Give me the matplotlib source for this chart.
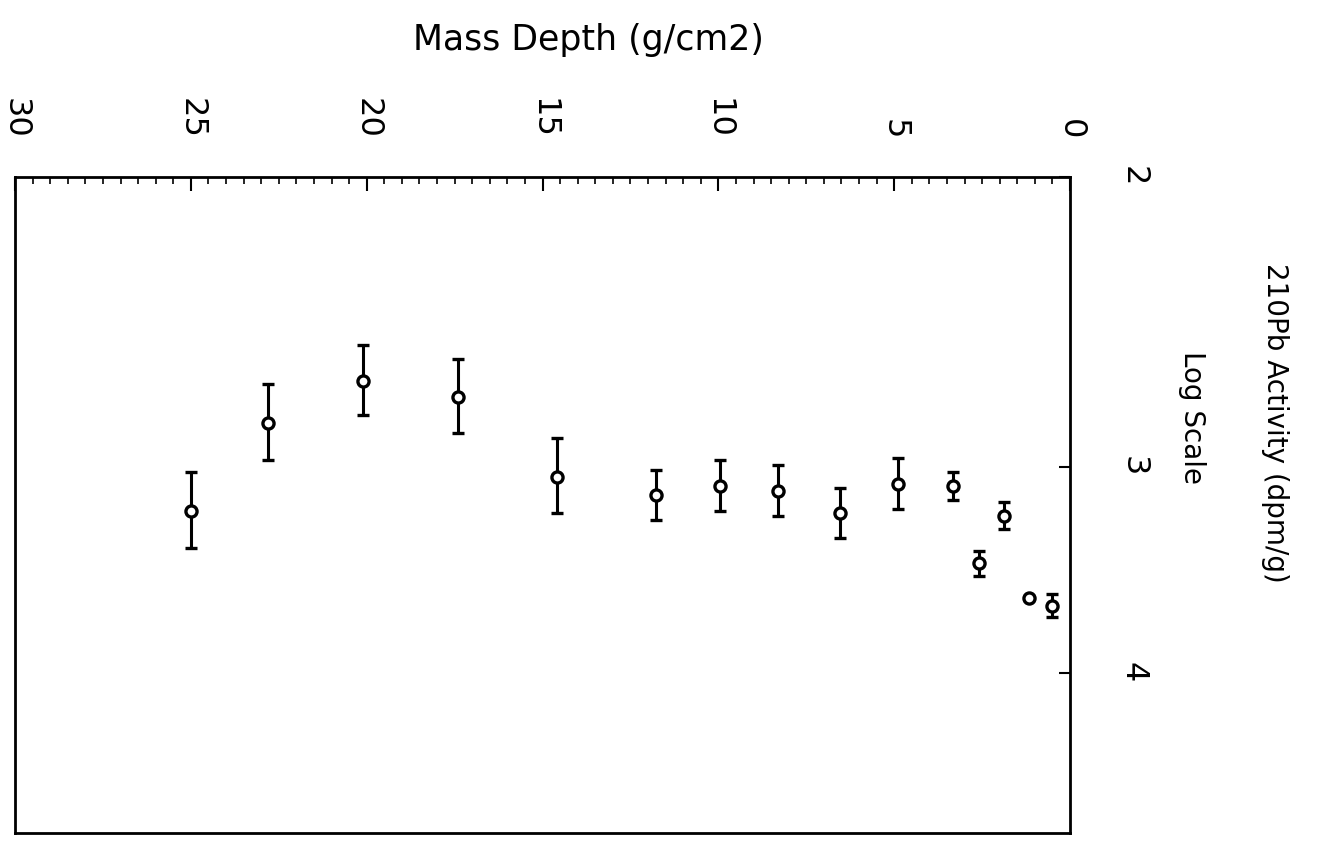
import matplotlib
matplotlib.use("Agg")
import matplotlib.pyplot as plt
from matplotlib.ticker import MultipleLocator, FixedLocator, NullLocator, FixedFormatter

# Data read from the (rotated) scanned plot
mass_depth = [0.51, 1.17, 1.88, 2.59, 3.32, 4.89, 6.54, 8.29, 9.94, 11.76,
              14.6, 17.4, 20.1, 22.8, 25.0]
activity = [3.64, 3.60, 3.21, 3.43, 3.08, 3.07, 3.20, 3.10, 3.08, 3.12,
            3.04, 2.72, 2.66, 2.82, 3.19]
act_err = [0.06, 0.0, 0.06, 0.06, 0.06, 0.11, 0.11, 0.11, 0.11, 0.11,
           0.16, 0.14, 0.13, 0.15, 0.17]

x_ticks = [30, 25, 20, 15, 10, 5, 0]
x_ticklabels = ["30", "25", "20", "15", "10", "5", "0"]
y_ticks = [2, 3, 4]
y_ticklabels = ["2", "3", "4"]

plt.rcParams['font.family'] = ['DejaVu Sans']

fig = plt.figure(figsize=(13.18, 8.45), dpi=100)
ax = fig.add_axes([15/1318, 1 - 834/845, (1070-15)/1318, (834-178)/845])

ax.errorbar(mass_depth, activity, yerr=act_err, fmt='o', mfc='white', mec='black',
            ecolor='black', ms=8, mew=2.4, elinewidth=2.2, capsize=4.5, capthick=2.2)

ax.set_xlim(30, 0)
ax.set_yscale('log')
ax.set_ylim(5, 2)

for s in ax.spines.values():
    s.set_linewidth(2.0)

ax.xaxis.set_major_locator(FixedLocator(x_ticks))
ax.xaxis.set_major_formatter(FixedFormatter(x_ticklabels))
ax.xaxis.set_minor_locator(MultipleLocator(0.5))
ax.yaxis.set_major_locator(FixedLocator(y_ticks))
ax.yaxis.set_major_formatter(FixedFormatter(y_ticklabels))
ax.yaxis.set_minor_locator(NullLocator())

ax.tick_params(axis='x', which='both', direction='in', top=True, bottom=False,
               labeltop=True, labelbottom=False)
ax.tick_params(axis='x', which='major', length=10, width=1.5, pad=28, labelsize=23,
               labelrotation=-90)
ax.tick_params(axis='x', which='minor', length=5, width=1.2)
ax.tick_params(axis='y', which='both', direction='in', right=True, left=False,
               labelright=True, labelleft=False)
ax.tick_params(axis='y', which='major', length=8, width=1.5, pad=34, labelsize=23,
               labelrotation=-90)

fig.text(588/1318, 1 - 40/845, "Mass Depth (g/cm2)", ha='center', va='center', fontsize=25)
fig.text(1192/1318, 1 - 418/845, "Log Scale", ha='center', va='center', fontsize=20,
         rotation=-90)
fig.text(1275/1318, 1 - 423/845, "210Pb Activity (dpm/g)", ha='center', va='center',
         fontsize=20, rotation=-90)

fig.savefig("out.png", dpi=100, facecolor='white')
